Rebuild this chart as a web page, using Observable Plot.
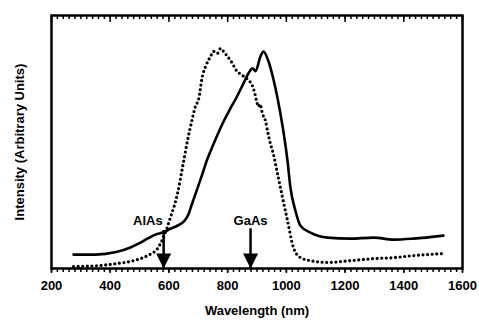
<!DOCTYPE html>
<html><head><meta charset="utf-8">
<script src="https://cdn.jsdelivr.net/npm/d3@7"></script>
<script src="https://cdn.jsdelivr.net/npm/@observablehq/plot@0.6"></script>
<style>
body{margin:0;background:#fff;}
</style>
</head><body><div id="chart"></div>
<script>
// Solid curve (wavelength nm, intensity arb. units)
const solidWavelength = [275,350,420,469,496,530,554,581,605,630,650,665,680,695,710,730,752,782,810,827,854,871,885,895,912,922,939,956,970,987,1004,1014,1031,1048,1082,1140,1218,1297,1365,1433,1535];
const solidIntensity  = [5.5,5.5,6.5,8.3,9.8,12,13.4,14.3,15.7,17,18.5,21,26,31,36,43,49.2,57.1,63.4,66.9,73.2,77.2,79.1,78.0,83.9,85.8,81.9,74.8,67.3,56.3,42.5,31.9,22.8,16.9,14.2,12.2,11.8,12.2,11.4,11.8,13.0];
// Dotted curve
const dottedWavelength = [275,320,367,425,479,527,561,581,605,629,646,663,680,690,701,714,725,742,752,765,776,786,799,816,827,844,868,885,895,900,905,910,919,929,936,946,953,970,980,987,1004,1024,1048,1082,1140,1218,1297,1365,1433,1535];
const dottedIntensity  = [0.8,0.9,1.2,2.0,3.1,5.1,7.9,12.2,20.1,29.5,39.8,50.4,59.4,64,66.9,76.0,79.9,83.9,85.8,85,87.0,85.8,83.9,81.1,78.7,76.8,74.8,72.0,68.1,65.5,64,65,61.0,58.3,54.3,49.2,46.5,37.4,31.9,28.0,18.9,8.3,4.3,3.1,2.4,3.1,3.9,4.3,5.1,5.9];
// Axis ticks
const majorTicks = [200,400,600,800,1000,1200,1400,1600];
const minorTicks = d3.range(200, 1601, 20);
// Band-gap markers
const markerNames = ["AlAs","GaAs"];
const markerWavelength = [582,878];
const markerTop = [15,15.7];
const markerLabelLevel = [19,19];

const solid = solidWavelength.map((w,i)=>({w, v: solidIntensity[i]}));
const dotted = dottedWavelength.map((w,i)=>({w, v: dottedIntensity[i]}));
const markers = markerNames.map((name,i)=>({name, w: markerWavelength[i], top: markerTop[i], lab: markerLabelLevel[i]}));

const headSymbol = {draw(ctx){ ctx.moveTo(-7.5,-15); ctx.lineTo(7.5,-15); ctx.lineTo(0,0); ctx.closePath(); }};

const chart = Plot.plot({
  width: 479, height: 320,
  marginLeft: 51, marginRight: 17, marginTop: 15, marginBottom: 52,
  x: {domain: [200,1600]},
  y: {domain: [0,100], axis: null},
  style: {fontFamily: "'Liberation Sans', Arial, sans-serif", fontSize: "13px", fontWeight: "bold", color: "black", background: "white"},
  marks: [
    Plot.frame({strokeWidth: 2.5}),
    Plot.axisX({anchor: "bottom", ticks: minorTicks, tickSize: 4, strokeWidth: 1.5, tickFormat: () => "", label: null}),
    Plot.axisX({anchor: "bottom", ticks: majorTicks, tickSize: 5, strokeWidth: 1.5, tickPadding: 7, tickFormat: d => String(d), label: null}),
    Plot.axisX({anchor: "top", ticks: minorTicks, tickSize: -3, strokeWidth: 1.5, tickFormat: () => "", label: null}),
    Plot.axisX({anchor: "top", ticks: majorTicks, tickSize: -6, strokeWidth: 1.5, tickFormat: () => "", label: null}),
    Plot.line(solid, {x: "w", y: "v", stroke: "black", strokeWidth: 2.6, curve: "monotone-x"}),
    Plot.line(dotted, {x: "w", y: "v", stroke: "black", strokeWidth: 3.2, strokeDasharray: "0,4.6", strokeLinecap: "round", curve: "monotone-x"}),
    Plot.ruleX(markers, {x: "w", y1: 0, y2: "top", stroke: "black", strokeWidth: 2.5}),
    Plot.dot(markers, {x: "w", frameAnchor: "bottom", symbol: headSymbol, fill: "black", stroke: "none", r: 5}),
    Plot.text(markers.filter(d => d.name === "AlAs"), {x: "w", y: "lab", text: "name", textAnchor: "end", dx: -1, fontSize: 13, fontWeight: "bold"}),
    Plot.text(markers.filter(d => d.name === "GaAs"), {x: "w", y: "lab", text: "name", textAnchor: "middle", fontSize: 13, fontWeight: "bold"}),
    Plot.text(["Wavelength (nm)"], {frameAnchor: "bottom", dy: 46, text: d => d, fontSize: 13, fontWeight: "bold"}),
    Plot.text(["Intensity (Arbitrary Units)"], {frameAnchor: "left", dx: -32, rotate: -90, textAnchor: "middle", text: d => d, fontSize: 13, fontWeight: "bold"})
  ]
});
document.getElementById("chart").appendChild(chart);
</script>
</body></html>
